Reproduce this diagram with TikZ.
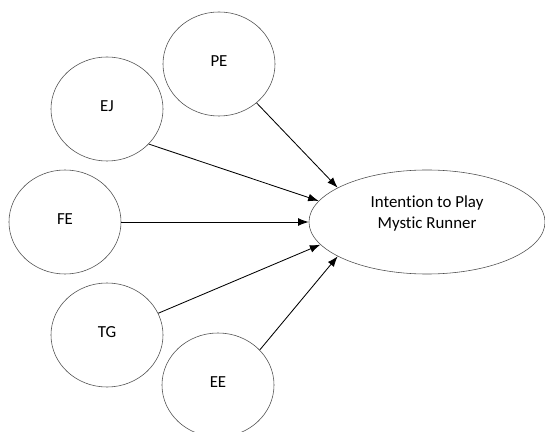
\documentclass[tikz,border=0pt]{standalone}
\usepackage{fontspec}
\setmainfont[Ligatures=NoCommon]{Carlito}
\usetikzlibrary{shapes.geometric,arrows.meta}

\begin{document}
\begin{tikzpicture}[
	x=0.025cm,y=-0.025cm,
	var/.style={ellipse,draw=black!70,thin,minimum width=2.8cm,minimum height=2.6cm,inner sep=0pt,text depth=0.15cm,font=\fontsize{12}{15}\selectfont},
	dv/.style={ellipse,draw=black!70,thin,minimum width=5.9cm,minimum height=2.6cm,inner sep=0pt,align=center,text depth=0.5cm,font=\fontsize{12}{15}\selectfont},
	effect/.style={>={Latex[length=7.5pt,width=5.5pt]},draw=black,semithick}
]

	\useasboundingbox (0,0) rectangle (545,432);

	\node[var] (pe) at (219,64) {PE};
	\node[var] (ej) at (107,109) {EJ};
	\node[var] (fe) at (65,222) {FE};
	\node[var] (tg) at (107,335) {TG};
	\node[var] (ee) at (218,385) {EE};
	\node[dv] (itp) at (427,222) {Intention to Play\\Mystic Runner};

	\draw[effect,->] (pe.-46) -- (itp.159);
	\draw[effect,->] (ej.-40) -- (itp.169);
	\draw[effect,->] (fe.east) -- (itp.west);
	\draw[effect,->] (tg.23) -- (itp.192);
	\draw[effect,->] (ee.40) -- (itp.201);

\end{tikzpicture}
\end{document}
